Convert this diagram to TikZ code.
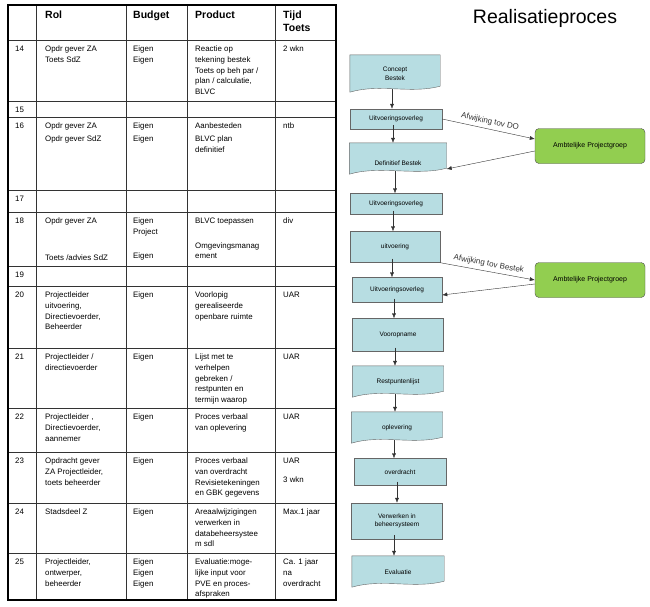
\documentclass[tikz,border=0pt]{standalone}
\usepackage{fontspec}
\setmainfont{Liberation Sans}
\usetikzlibrary{arrows.meta, positioning, calc, backgrounds}
\definecolor{boxfill}{RGB}{183,221,226}
\definecolor{groupfill}{RGB}{146,206,80}
\tikzset{
  cell/.style={anchor=north west, inner sep=0pt, align=left, font=\fontsize{7.9}{10.6}\selectfont},
  head/.style={anchor=north west, inner sep=0pt, align=left, font=\fontsize{10.5}{12.5}\selectfont\bfseries},
  stap/.style={draw=black!60, fill=boxfill, align=center, font=\fontsize{6.5}{8.5}\selectfont, inner sep=1pt},
  doc/.style={align=center, font=\fontsize{6.5}{8.5}\selectfont, inner sep=1pt},
  group/.style={draw=black!70, fill=groupfill, rounded corners=4pt, minimum width=110pt, minimum height=35pt, font=\fontsize{7}{8}\selectfont},
  flow/.style={-{Latex[length=5pt,width=4pt]}, black!80},
}
\begin{document}
\begin{tikzpicture}[x=1pt,y=-1pt]
    \useasboundingbox (0,0) rectangle (650,606);

    % Tabel
    \foreach \y in {40,101,117,190,212,266,286,348,408,452,503,553}
        \draw[black!80] (8,\y) -- (336,\y);
    \foreach \x in {36,126,187,275}
        \draw[black!80] (\x,5) -- (\x,600);
    \draw[line width=1.2pt] (8,5) rectangle (336,600);
    \draw[line width=2pt] (8,5) -- (8,600);

    \node[head] (hrol) at (45,11) {Rol};
    \node[head] (hbudget) at (133,11) {Budget};
    \node[head] (hproduct) at (195,11) {Product};
    \node[head] (htijd) at (283,11) {Tijd\\Toets};

    \foreach \n/\top/\rol/\bud/\prod/\tijd in {
        14/40/{Opdr gever ZA\\Toets SdZ}/{Eigen\\Eigen}/{Reactie op\\tekening bestek\\Toets op beh par /\\plan / calculatie,\\BLVC}/{2 wkn},
        15/101/{}/{}/{}/{},
        16/117/{Opdr gever ZA\\[2pt]Opdr gever SdZ}/{Eigen\\[2pt]Eigen}/{Aanbesteden\\[2pt]BLVC plan\\definitief}/{ntb},
        17/190/{}/{}/{}/{},
        18/212/{Opdr gever ZA\\[26pt]Toets /advies SdZ}/{Eigen\\Project\\[13pt]Eigen}/{BLVC toepassen\\[14pt]Omgevingsmanag\\ement}/{div},
        19/266/{}/{}/{}/{},
        20/286/{Projectleider\\uitvoering,\\Directievoerder,\\Beheerder}/{Eigen}/{Voorlopig\\gerealiseerde\\openbare ruimte}/{UAR},
        21/348/{Projectleider /\\directievoerder}/{Eigen}/{Lijst met te\\verhelpen\\gebreken /\\restpunten en\\termijn waarop}/{UAR},
        22/408/{Projectleider ,\\Directievoerder,\\aannemer}/{Eigen}/{Proces verbaal\\van oplevering}/{UAR},
        23/452/{Opdracht gever\\ZA Projectleider,\\toets beheerder}/{Eigen}/{Proces verbaal\\van overdracht\\Revisietekeningen\\en GBK gegevens}/{UAR\\[8pt]3 wkn},
        24/503/{Stadsdeel Z}/{Eigen}/{Areaalwijzigingen\\verwerken in\\databeheersystee\\m sdl}/{Max.1 jaar},
        25/553/{Projectleider,\\ontwerper,\\beheerder}/{Eigen\\Eigen\\Eigen}/{Evaluatie:moge-\\lijke input voor\\PVE en proces-\\afspraken}/{Ca. 1 jaar\\na\\overdracht}}
    {
        \node[cell] (nr\n) at (15,\top+6) {\n};
        \node[cell] (rol\n) at (45,\top+6) {\rol};
        \node[cell] (bud\n) at (133,\top+6) {\bud};
        \node[cell] (prod\n) at (195,\top+6) {\prod};
        \node[cell] (tijd\n) at (283,\top+6) {\tijd};
    }

    % Titel
    \node[font=\fontsize{19.5}{22}\selectfont] (titel) at (545,18) {Realisatieproces};

    % Stroomschema
    \node[doc, minimum width=90pt, minimum height=38pt] (concept) at (395,74) {Concept\\Bestek};
    \node[stap, minimum width=92pt, minimum height=20pt] (overleg1) at (396,119) {Uitvoeringsoverleg};
    \node[doc, minimum width=97pt, minimum height=32pt] (definitief) at (398,159) {\\[4pt]Definitief Bestek};
    \node[stap, minimum width=92pt, minimum height=21pt] (overleg2) at (396,204) {Uitvoeringsoverleg};
    \node[stap, minimum width=90pt, minimum height=31pt] (uitvoering) at (395,247) {uitvoering};
    \node[stap, minimum width=90pt, minimum height=25pt] (overleg3) at (397,290) {Uitvoeringsoverleg};
    \node[stap, minimum width=91pt, minimum height=33pt] (vooropname) at (398,335) {Vooropname};
    \node[doc, minimum width=91pt, minimum height=32pt] (restpunten) at (398,382) {Restpuntenlijst};
    \node[doc, minimum width=91pt, minimum height=32pt] (oplevering) at (397,428) {oplevering};
    \node[stap, minimum width=92pt, minimum height=27pt] (overdracht) at (400,472) {overdracht};
    \node[stap, minimum width=91pt, minimum height=36pt] (verwerken) at (397,521) {Verwerken in\\beheersysteem};
    \node[doc, minimum width=92pt, minimum height=32pt] (evaluatie) at (398,572) {Evaluatie};

    \node[group] (groep1) at (590,146) {Ambtelijke Projectgroep};
    \node[group] (groep2) at (590,280) {Ambtelijke Projectgroep};

    \begin{scope}[on background layer]
        \foreach \d in {concept,definitief,restpunten,oplevering,evaluatie}
            \filldraw[draw=black!60, fill=boxfill] (\d.north west) -- (\d.north east)
                -- ([yshift=7pt]\d.south east)
                .. controls ([xshift=-30pt,yshift=-1pt]\d.south east) and ([xshift=30pt,yshift=10pt]\d.south west)
                .. ([yshift=1pt]\d.south west) -- cycle;
    \end{scope}

    \foreach \a/\b in {concept/overleg1, overleg1/definitief, definitief/overleg2, overleg2/uitvoering,
        uitvoering/overleg3, overleg3/vooropname, vooropname/restpunten, restpunten/oplevering,
        oplevering/overdracht, overdracht/verwerken, verwerken/evaluatie}
        \draw[flow] ([xshift=-3pt,yshift=4pt]\a.south) -- ([xshift=-3pt]\a.south |- \b.north);

    \draw[flow] (overleg1.east) -- node[above, sloped, font=\fontsize{8}{10}\selectfont] {Afwijking tov DO} ([yshift=7pt]groep1.west);
    \draw[flow] ([yshift=-5pt]groep1.west) -- ([yshift=-10pt]definitief.east);
    \draw[flow] (uitvoering.south east) -- node[above, sloped, font=\fontsize{8}{10}\selectfont] {Afwijking tov Bestek} (groep2.west);
    \draw[flow] ([yshift=-4pt]groep2.west) -- ([yshift=-5pt]overleg3.east);
\end{tikzpicture}
\end{document}
